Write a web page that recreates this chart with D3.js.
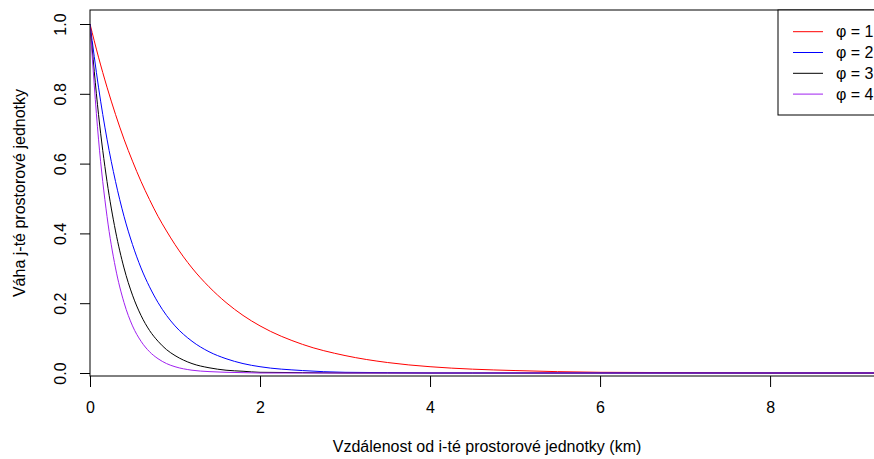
<!DOCTYPE html>
<html lang="cs">
<head>
    <meta charset="UTF-8">
    <script src="https://d3js.org/d3.v7.min.js"></script>
    <title>Váha j-té prostorové jednotky</title>
    <style>
        body { margin: 0; background: white; }
        svg { display: block; font-family: "Liberation Sans", Arial, sans-serif; }
    </style>
</head>
<body>
<div id="chart"></div>
<script>
    // vzdálenost (km) a odečtené váhy pro jednotlivá phi
    const distances = [0, 0.1, 0.2, 0.3, 0.4, 0.5, 0.6, 0.7, 0.8, 0.9, 1.0, 1.2, 1.4, 1.6, 1.8, 2.0,
        2.5, 3.0, 3.5, 4.0, 4.5, 5.0, 6.0, 7.0, 8.0, 9.0, 10.0];
    const phi1 = [1, 0.905, 0.819, 0.741, 0.670, 0.607, 0.549, 0.497, 0.449, 0.407, 0.368, 0.301, 0.247, 0.202, 0.165, 0.135,
        0.082, 0.050, 0.030, 0.018, 0.011, 0.007, 0.002, 0.001, 0, 0, 0];
    const phi2 = [1, 0.819, 0.670, 0.549, 0.449, 0.368, 0.301, 0.247, 0.202, 0.165, 0.135, 0.091, 0.061, 0.041, 0.027, 0.018,
        0.007, 0.002, 0.001, 0, 0, 0, 0, 0, 0, 0, 0];
    const phi3 = [1, 0.741, 0.549, 0.407, 0.301, 0.223, 0.165, 0.122, 0.091, 0.067, 0.050, 0.027, 0.015, 0.008, 0.005, 0.002,
        0.001, 0, 0, 0, 0, 0, 0, 0, 0, 0, 0];
    const phi4 = [1, 0.670, 0.449, 0.301, 0.202, 0.135, 0.091, 0.061, 0.041, 0.027, 0.018, 0.008, 0.004, 0.002, 0.001, 0,
        0, 0, 0, 0, 0, 0, 0, 0, 0, 0, 0];
    const seriesNames = ["φ = 1", "φ = 2", "φ = 3", "φ = 4"];
    const seriesColors = ["#FF0000", "#0000FF", "#000000", "#A020F0"];
    const xTicks = [0, 2, 4, 6, 8];
    const yTicks = [0, 0.2, 0.4, 0.6, 0.8, 1.0];

    const width = 874, height = 459;
    const plot = { left: 90, right: 884, top: 10, bottom: 376 };

    const svg = d3.select("#chart").append("svg")
        .attr("width", width)
        .attr("height", height);

    const x = d3.scaleLinear().domain([0, 9.34]).range([plot.left, plot.right]);
    const y = d3.scaleLinear().domain([0, 1]).range([373, 24]);

    svg.append("clipPath").attr("id", "clip")
        .append("rect")
        .attr("x", plot.left).attr("y", plot.top)
        .attr("width", plot.right - plot.left).attr("height", plot.bottom - plot.top);

    const line = d3.line()
        .x(d => x(d[0]))
        .y(d => y(d[1]))
        .curve(d3.curveMonotoneX);

    const series = [phi1, phi2, phi3, phi4];
    svg.append("g").attr("clip-path", "url(#clip)")
        .selectAll("path")
        .data(series)
        .enter()
        .append("path")
        .attr("d", s => line(distances.map((d, i) => [d, s[i]])))
        .attr("fill", "none")
        .attr("stroke", (s, i) => seriesColors[i])
        .attr("stroke-width", 1);

    // ramecek
    svg.append("rect")
        .attr("x", plot.left).attr("y", plot.top)
        .attr("width", plot.right - plot.left).attr("height", plot.bottom - plot.top)
        .attr("fill", "none").attr("stroke", "#000").attr("stroke-width", 1);

    // osa x
    const xAxis = d3.axisBottom(x).tickValues(xTicks).tickSize(11).tickSizeOuter(0)
        .tickFormat(d3.format("d"));
    const gx = svg.append("g").attr("transform", `translate(0,${plot.bottom})`).call(xAxis);
    gx.select(".domain").remove();
    gx.selectAll("text").attr("font-size", 16).attr("fill", "#000").attr("dy", null).attr("y", 37)
        .attr("font-family", "Liberation Sans, Arial, sans-serif");

    // osa y
    const yAxis = d3.axisLeft(y).tickValues(yTicks).tickSize(10).tickSizeOuter(0)
        .tickFormat(d3.format(".1f"));
    const gy = svg.append("g").attr("transform", `translate(${plot.left},0)`).call(yAxis);
    gy.select(".domain").remove();
    gy.selectAll("text")
        .attr("font-size", 16).attr("fill", "#000")
        .attr("font-family", "Liberation Sans, Arial, sans-serif")
        .attr("x", null).attr("dy", null)
        .attr("text-anchor", "middle")
        .attr("transform", "translate(-24,0) rotate(-90)");

    svg.append("text")
        .attr("x", (plot.left + plot.right) / 2)
        .attr("y", 451.5)
        .attr("text-anchor", "middle")
        .attr("font-size", 16)
        .text("Vzdálenost od i-té prostorové jednotky (km)");

    svg.append("text")
        .attr("transform", `translate(25,${(plot.top + plot.bottom) / 2}) rotate(-90)`)
        .attr("text-anchor", "middle")
        .attr("font-size", 16)
        .text("Váha j-té prostorové jednotky");

    // legenda
    const legend = svg.append("g");
    legend.append("rect")
        .attr("x", 778).attr("y", plot.top)
        .attr("width", plot.right - 778).attr("height", 105)
        .attr("fill", "white").attr("stroke", "#000").attr("stroke-width", 1);
    const rows = legend.selectAll("g.row")
        .data(seriesNames)
        .enter()
        .append("g")
        .attr("class", "row")
        .attr("transform", (d, i) => `translate(0,${31.7 + i * 20.8})`);
    rows.append("line")
        .attr("x1", 793).attr("x2", 823)
        .attr("stroke", (d, i) => seriesColors[i]).attr("stroke-width", 1);
    rows.append("text")
        .attr("x", 836).attr("dy", "0.36em")
        .attr("font-size", 16)
        .text(d => d);
</script>
</body>
</html>
